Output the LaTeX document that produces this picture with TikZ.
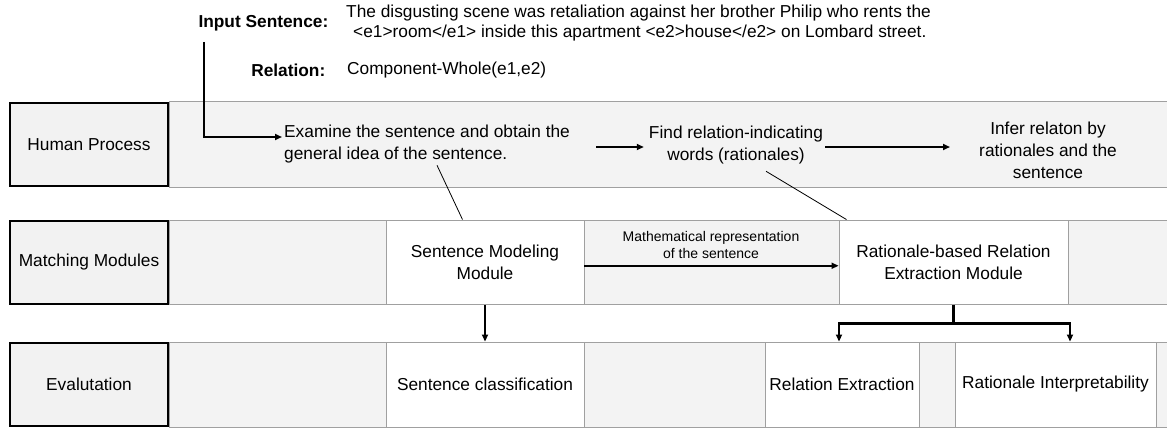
\documentclass[tikz,border=0pt]{standalone}
\usepackage{fontspec}
\setmainfont{Liberation Sans}
\usetikzlibrary{arrows.meta}
\definecolor{bandgray}{HTML}{F3F3F3}
\definecolor{rulegray}{HTML}{A0A0A0}
\definecolor{labelgray}{HTML}{F2F2F2}
\newcommand\bodysize{\fontsize{17.3}{22}\selectfont}
\newcommand\notesize{\fontsize{14}{16.5}\selectfont}
\begin{document}
\begin{tikzpicture}[x=1pt,y=-1pt,
  band/.style={fill=bandgray,draw=rulegray,line width=0.9pt},
  rowlabel/.style={draw=black,fill=labelgray,line width=2.4pt,minimum width=157.5pt,minimum height=83pt,inner sep=0pt,font=\bodysize},
  cell/.style={draw=rulegray,fill=white,line width=0.9pt,inner sep=0pt,align=center,font=\bodysize},
  txt/.style={inner sep=2pt,align=center,font=\bodysize},
  flow/.style={-{Triangle[length=7pt,width=6pt]},line width=1.8pt},
  pointer/.style={line width=0.8pt},
]
\useasboundingbox (0,0) rectangle (1167,428);

% horizontal bands of the three rows
\path[band] (169,101.5) rectangle (1175,187);
\path[band] (169,220) rectangle (1175,304.5);
\path[band] (169,342) rectangle (1175,427);

% row labels
\node[rowlabel] (hp) at (89,144.25) {Human Process};
\node[rowlabel] (mm) at (89,262.25) {Matching Modules};
\node[rowlabel] (ev) at (89,384.5) {Evalutation};

% module cells
\node[cell,minimum width=198pt,minimum height=84.5pt] (smm) at (485,262.25) {Sentence Modeling\\Module};
\node[cell,minimum width=229pt,minimum height=84.5pt] (rbm) at (953.5,262.25) {Rationale-based Relation\\Extraction Module};

% evaluation cells
\node[cell,minimum width=198pt,minimum height=85pt] (sc) at (485,384.5) {Sentence classification};
\node[cell,minimum width=154pt,minimum height=85pt] (re) at (842,384.5) {Relation Extraction};
\node[cell,minimum width=201pt,minimum height=85pt] (ri) at (1055.5,384.5) {Rationale Interpretability};

% input
\node[inner sep=0pt,anchor=east,font=\bodysize\bfseries] (inlabel) at (328.5,23) {Input Sentence:};
\node[inner sep=0pt,anchor=west,align=left,font=\fontsize{17.3}{20}\selectfont] (sentence) at (346,23)
  {The disgusting scene was retaliation against her brother Philip who rents the\\
   \hspace*{7pt}<e1>room</e1> inside this apartment <e2>house</e2> on Lombard street.};
\node[inner sep=0pt,anchor=east,font=\bodysize\bfseries] (rellabel) at (325.5,70) {Relation:};
\node[inner sep=0pt,anchor=west,font=\bodysize] (relation) at (347,70) {Component-Whole(e1,e2)};

% human process steps
\node[txt,align=left,anchor=west] (examine) at (282,144) {Examine the sentence and obtain the\\general idea of the sentence.};
\node[txt] (find) at (736,145) {Find relation-indicating\\words (rationales)};
\node[txt] (infer) at (1048,150) {Infer relaton by\\rationales and the\\sentence};

\coordinate (entry) at (204,42);
\coordinate (a2s) at (596,147);
\coordinate (a3e) at (950,147);
\coordinate (br) at (953.5,323.5);

\draw[flow] (entry) |- ([yshift=7pt]examine.west);
\draw[flow] (a2s) -- ([xshift=-3pt]find.west |- a2s);
\draw[flow,line width=2.6pt] (find.east |- a3e) -- (a3e);

% links from steps to modules
\draw[pointer] (examine.south -| 437,0) -- (smm.north -| 462.5,0);
\draw[pointer] ([yshift=-5pt]find.south -| 766,0) -- (rbm.north -| 846.5,0);

% module connections
\node[txt,font=\notesize] (mathnote) at (711,245) {Mathematical representation\\of the sentence};
\draw[flow] ([yshift=-3.5pt]smm.east) -- ([yshift=-3.5pt]rbm.west);
\draw[flow] (smm.south) -- (sc.north);
\draw[line width=3pt] (rbm.south) -- (br);
\draw[flow,line width=2.4pt] (br) -| ([xshift=-3pt]re.north);
\draw[flow,line width=2.4pt] (br) -| ([xshift=14.5pt]ri.north);
\end{tikzpicture}
\end{document}
